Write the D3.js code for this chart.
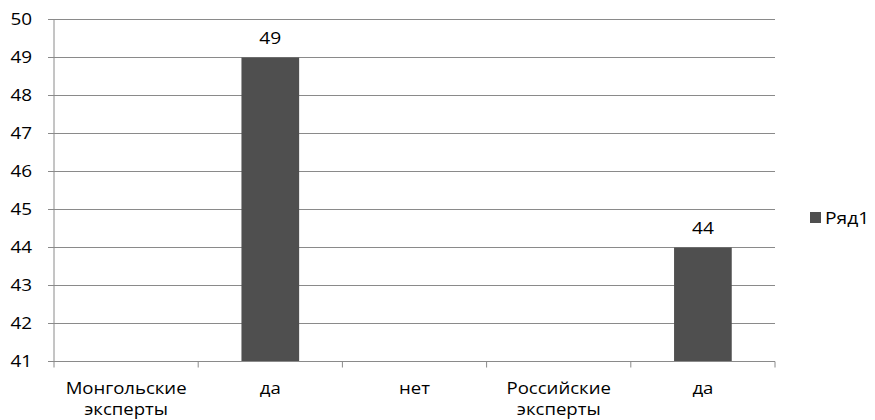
<!DOCTYPE html>
<html>
<head>
<meta charset="utf-8">
<script src="https://cdn.jsdelivr.net/npm/d3@7"></script>
<style>
  body { margin: 0; background: #fff; }
  text { font-family: "Open Sans", "DejaVu Sans", sans-serif; fill: #000; }
</style>
</head>
<body>
<svg id="chart" width="875" height="420"></svg>
<script>
// chart data
const categories = [["Монгольские", "эксперты"], ["да"], ["нет"], ["Российские", "эксперты"], ["да"]];
const values = [null, 49, null, null, 44];
const yTicks = [41, 42, 43, 44, 45, 46, 47, 48, 49, 50];
const seriesName = "Ряд1";

const margin = { top: 19.5, left: 54, right: 100, bottom: 58.5 };
const width = 875 - margin.left - margin.right,
      height = 420 - margin.top - margin.bottom;

const svg = d3.select("#chart");
const g = svg.append("g").attr("transform", `translate(${margin.left},${margin.top})`);

const x = d3.scaleBand().domain(d3.range(categories.length)).range([0, width]);
const y = d3.scaleLinear().domain([41, 50]).range([height, 0]);
const barW = x.bandwidth() / 2.5;

// place a text at (px, py), widened horizontally (the source font is set wide)
function wide(sel, px, py, sx) {
    return sel.attr("transform", (d, i) => `translate(${px(d, i)},${py(d, i)}) scale(${sx},1)`);
}

// gridlines
g.selectAll("line.grid")
    .data(yTicks)
    .join("line")
    .attr("class", "grid")
    .attr("x1", 0).attr("x2", width)
    .attr("y1", d => y(d)).attr("y2", d => y(d))
    .attr("stroke", "#8a8a8a")
    .attr("stroke-width", 1);

// bars
const data = values.map((v, i) => ({ i, v })).filter(d => d.v != null);
g.selectAll("rect.bar")
    .data(data)
    .join("rect")
    .attr("class", "bar")
    .attr("x", d => x(d.i) + (x.bandwidth() - barW) / 2)
    .attr("width", barW)
    .attr("y", d => y(d.v))
    .attr("height", d => height - y(d.v))
    .attr("fill", "#4f4f4f");

wide(g.selectAll("text.val")
    .data(data)
    .join("text")
    .attr("class", "val")
    .attr("text-anchor", "middle")
    .attr("font-size", "16px")
    .text(d => d.v), d => x(d.i) + x.bandwidth() / 2, d => y(d.v) - 14, 1.2);

// y axis
const yAxis = g.append("g");
yAxis.append("line")
    .attr("x1", 0).attr("x2", 0)
    .attr("y1", 0).attr("y2", height)
    .attr("stroke", "#8a8a8a");
yAxis.selectAll("line.tick")
    .data(yTicks)
    .join("line")
    .attr("class", "tick")
    .attr("x1", -6).attr("x2", 0)
    .attr("y1", d => y(d)).attr("y2", d => y(d))
    .attr("stroke", "#8a8a8a");
wide(yAxis.selectAll("text")
    .data(yTicks)
    .join("text")
    .attr("text-anchor", "end")
    .attr("font-size", "15.5px")
    .text(d => d), () => -22, d => y(d) + 5.5, 1.22);

// x axis
const xAxis = g.append("g").attr("transform", `translate(0,${height})`);
xAxis.append("line")
    .attr("x1", 0).attr("x2", width)
    .attr("stroke", "#8a8a8a");
xAxis.selectAll("line.tick")
    .data(d3.range(categories.length + 1))
    .join("line")
    .attr("class", "tick")
    .attr("x1", d => d * x.step()).attr("x2", d => d * x.step())
    .attr("y1", 0).attr("y2", 6)
    .attr("stroke", "#8a8a8a");
wide(xAxis.selectAll("text")
    .data(categories)
    .join("text")
    .attr("text-anchor", "middle")
    .attr("font-size", "16px"), (d, i) => x(i) + x.bandwidth() / 2, () => 32, 1.16)
    .each(function (d) {
        d3.select(this).selectAll("tspan")
            .data(d)
            .join("tspan")
            .attr("x", 0)
            .attr("dy", (t, k) => k ? 22 : 0)
            .text(t => t);
    });

// legend
const legend = svg.append("g").attr("transform", "translate(810,212)");
legend.append("rect").attr("width", 11).attr("height", 11).attr("fill", "#4f4f4f");
legend.append("text")
    .attr("transform", "translate(15,11.5) scale(1.2,1)")
    .attr("font-size", "16px")
    .text(seriesName);
</script>
</body>
</html>
